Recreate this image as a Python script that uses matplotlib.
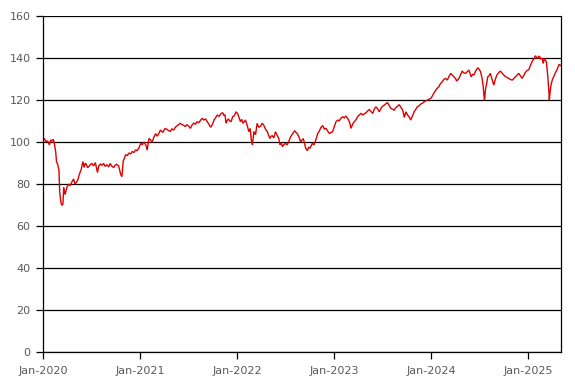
import matplotlib
matplotlib.use("Agg")
import matplotlib.pyplot as plt
import pandas as pd

dates = [
    # 2020
    "2020-01-01", "2020-01-04", "2020-01-08", "2020-01-11", "2020-01-15", "2020-01-20", "2020-01-25",
    "2020-01-30", "2020-02-04", "2020-02-08", "2020-02-12", "2020-02-18", "2020-02-21", "2020-02-25",
    "2020-03-01", "2020-03-04", "2020-03-08", "2020-03-12", "2020-03-16", "2020-03-19", "2020-03-24",
    "2020-03-31", "2020-04-06", "2020-04-12", "2020-04-18", "2020-04-25", "2020-05-01", "2020-05-10",
    "2020-05-17", "2020-05-24", "2020-05-30", "2020-06-04", "2020-06-08", "2020-06-12", "2020-06-17",
    "2020-06-21", "2020-06-27", "2020-07-03", "2020-07-09", "2020-07-16", "2020-07-24", "2020-07-29",
    "2020-08-04", "2020-08-10", "2020-08-16", "2020-08-22", "2020-08-29", "2020-09-04", "2020-09-10",
    "2020-09-16", "2020-09-23", "2020-09-28", "2020-10-04", "2020-10-12", "2020-10-19", "2020-10-24",
    "2020-10-29", "2020-11-03", "2020-11-07", "2020-11-13", "2020-11-20", "2020-11-26", "2020-12-02",
    "2020-12-08", "2020-12-15", "2020-12-20", "2020-12-27",
    # 2021
    "2021-01-03", "2021-01-09", "2021-01-15", "2021-01-22", "2021-01-27", "2021-02-03", "2021-02-09",
    "2021-02-15", "2021-02-21", "2021-02-28", "2021-03-06", "2021-03-11", "2021-03-18", "2021-03-27",
    "2021-04-05", "2021-04-14", "2021-04-24", "2021-04-30", "2021-05-07", "2021-05-14", "2021-05-21",
    "2021-05-31", "2021-06-07", "2021-06-13", "2021-06-19", "2021-06-26", "2021-07-03", "2021-07-09",
    "2021-07-15", "2021-07-21", "2021-07-28", "2021-08-03", "2021-08-09", "2021-08-15", "2021-08-22",
    "2021-08-29", "2021-09-04", "2021-09-10", "2021-09-17", "2021-09-23", "2021-09-29", "2021-10-06",
    "2021-10-12", "2021-10-18", "2021-10-25", "2021-10-31", "2021-11-07", "2021-11-12", "2021-11-16",
    "2021-11-20", "2021-11-25", "2021-11-29", "2021-12-04", "2021-12-09", "2021-12-15", "2021-12-21",
    "2021-12-28",
    # 2022
    "2022-01-03", "2022-01-07", "2022-01-13", "2022-01-18", "2022-01-23", "2022-02-01", "2022-02-07",
    "2022-02-14", "2022-02-19", "2022-02-23", "2022-02-27", "2022-03-05", "2022-03-11", "2022-03-17",
    "2022-03-23", "2022-03-30", "2022-04-05", "2022-04-11", "2022-04-18", "2022-04-24", "2022-04-29",
    "2022-05-04", "2022-05-09", "2022-05-13", "2022-05-19", "2022-05-25", "2022-06-03", "2022-06-07",
    "2022-06-11", "2022-06-16", "2022-06-20", "2022-06-26", "2022-07-02", "2022-07-08", "2022-07-14",
    "2022-07-21", "2022-07-28", "2022-08-05", "2022-08-10", "2022-08-15", "2022-08-21", "2022-08-28",
    "2022-09-02", "2022-09-07", "2022-09-12", "2022-09-16", "2022-09-22", "2022-09-27", "2022-10-02",
    "2022-10-07", "2022-10-11", "2022-10-17", "2022-10-24", "2022-10-31", "2022-11-06", "2022-11-12",
    "2022-11-19", "2022-11-25", "2022-12-01", "2022-12-07", "2022-12-14", "2022-12-20", "2022-12-26",
    # 2023
    "2023-01-02", "2023-01-08", "2023-01-14", "2023-01-20", "2023-01-26", "2023-02-02", "2023-02-08",
    "2023-02-14", "2023-02-23", "2023-03-01", "2023-03-05", "2023-03-10", "2023-03-15", "2023-03-22",
    "2023-03-30", "2023-04-05", "2023-04-12", "2023-04-19", "2023-04-25", "2023-05-01", "2023-05-07",
    "2023-05-13", "2023-05-19", "2023-05-26", "2023-06-01", "2023-06-07", "2023-06-13", "2023-06-20",
    "2023-06-27", "2023-07-03", "2023-07-09", "2023-07-15", "2023-07-21", "2023-07-27", "2023-08-03",
    "2023-08-09", "2023-08-15", "2023-08-21", "2023-08-27", "2023-09-03", "2023-09-09", "2023-09-16",
    "2023-09-22", "2023-09-28", "2023-10-04", "2023-10-10", "2023-10-16", "2023-10-22", "2023-10-29",
    "2023-11-04", "2023-11-10", "2023-11-17", "2023-11-23", "2023-11-29", "2023-12-06", "2023-12-12",
    "2023-12-18", "2023-12-24", "2023-12-31",
    # 2024
    "2024-01-05", "2024-01-11", "2024-01-17", "2024-01-23", "2024-01-30", "2024-02-05", "2024-02-12",
    "2024-02-18", "2024-02-24", "2024-03-02", "2024-03-08", "2024-03-15", "2024-03-21", "2024-03-27",
    "2024-04-02", "2024-04-06", "2024-04-10", "2024-04-15", "2024-04-21", "2024-04-27", "2024-05-03",
    "2024-05-10", "2024-05-16", "2024-05-22", "2024-05-27", "2024-05-31", "2024-06-05", "2024-06-10",
    "2024-06-15", "2024-06-20", "2024-06-25", "2024-06-30", "2024-07-05", "2024-07-11", "2024-07-15",
    "2024-07-18", "2024-07-20", "2024-07-24", "2024-07-28", "2024-08-01", "2024-08-05", "2024-08-11",
    "2024-08-18", "2024-08-24", "2024-08-30", "2024-09-05", "2024-09-11", "2024-09-18", "2024-09-24",
    "2024-09-30", "2024-10-06", "2024-10-12", "2024-10-19", "2024-10-25", "2024-11-01", "2024-11-07",
    "2024-11-13", "2024-11-19", "2024-11-26", "2024-12-02", "2024-12-08", "2024-12-14", "2024-12-21",
    "2024-12-27",
    # 2025
    "2025-01-03", "2025-01-09", "2025-01-15", "2025-01-21", "2025-01-28", "2025-02-01", "2025-02-05",
    "2025-02-09", "2025-02-13", "2025-02-17", "2025-02-22", "2025-02-26", "2025-03-02", "2025-03-06",
    "2025-03-10", "2025-03-13", "2025-03-16", "2025-03-19", "2025-03-21", "2025-03-24", "2025-03-27",
    "2025-04-01", "2025-04-06", "2025-04-12", "2025-04-19", "2025-04-23", "2025-04-27", "2025-05-02",
]

values = [
    # 2020
    100.5, 101.8, 101.3, 99.8, 100.5, 100.2, 98.6,
    101.0, 100.4, 101.3, 100.0, 95.0, 90.5, 89.5,
    86.6, 76.0, 71.5, 69.8, 70.5, 78.5, 75.0,
    78.5, 80.0, 79.2, 80.8, 82.4, 80.0, 81.6,
    84.7, 87.0, 90.7, 87.9, 89.9, 89.4, 87.8,
    88.2, 89.3, 89.8, 88.6, 90.2, 85.5, 88.7,
    89.5, 88.9, 89.8, 88.4, 89.2, 88.1, 89.8,
    88.5, 87.9, 88.9, 89.4, 88.6, 84.7, 83.5,
    91.0, 92.5, 94.0, 93.5, 94.8, 94.3, 95.5,
    95.0, 96.3, 95.8, 97.1,
    # 2021
    99.4, 98.7, 100.0, 98.6, 96.2, 101.7, 101.0,
    100.0, 102.2, 104.0, 102.8, 103.8, 105.7, 104.6,
    106.5, 105.8, 105.0, 106.3, 105.7, 107.2, 107.8,
    108.9, 108.3, 108.0, 107.4, 108.2, 107.5, 106.5,
    108.1, 109.0, 108.5, 109.7, 109.2, 110.2, 111.3,
    110.5, 111.0, 109.7, 108.4, 107.0, 108.2, 110.5,
    111.6, 112.9, 112.2, 113.4, 114.0, 112.6, 113.0,
    108.9, 110.4, 111.0, 110.0, 109.7, 112.0, 112.5,
    114.4,
    # 2022
    113.4, 112.0, 109.7, 110.8, 108.9, 110.5, 108.2,
    104.9, 106.5, 101.0, 98.6, 105.0, 103.5, 108.9,
    107.0, 107.6, 109.0, 108.0, 106.0, 105.0, 103.4,
    101.7, 102.8, 103.0, 102.0, 104.9, 102.5, 101.5,
    98.6, 99.8, 97.8, 98.8, 99.4, 98.6, 100.2,
    102.5, 103.8, 105.4, 104.6, 104.0, 102.6, 100.0,
    101.0, 101.6, 99.0, 97.0, 95.9, 97.6, 97.0,
    98.4, 99.4, 98.6, 101.0, 104.0, 105.2, 106.9,
    107.8, 106.2, 106.5, 105.4, 104.0, 104.5, 104.9,
    # 2023
    107.5, 109.7, 110.4, 110.1, 111.3, 112.0, 111.5,
    112.4, 110.8, 109.0, 106.5, 108.0, 109.3, 110.2,
    112.0, 112.8, 113.6, 112.9, 113.5, 113.9, 114.8,
    115.5, 114.6, 113.6, 115.6, 116.8, 115.9, 114.4,
    116.2, 117.1, 117.6, 118.3, 118.7, 117.4, 116.0,
    115.6, 115.2, 116.4, 117.0, 117.8, 116.5, 115.2,
    111.7, 114.4, 112.9, 112.0, 110.5, 112.2, 114.4,
    115.5, 116.8, 117.3, 118.1, 118.4, 119.2, 119.6,
    120.0, 120.4, 120.8,
    # 2024
    121.8, 123.2, 124.4, 125.5, 126.3, 127.8, 128.7,
    129.8, 130.3, 129.5, 131.2, 132.7, 131.8, 131.0,
    130.2, 129.0, 129.6, 130.3, 132.0, 133.8, 132.9,
    132.7, 133.5, 134.3, 132.5, 131.0, 132.2, 132.0,
    133.4, 134.5, 135.4, 134.6, 133.5, 130.3, 126.5,
    122.0, 120.0, 125.4, 127.8, 131.0, 131.4, 132.7,
    129.5, 127.1, 130.0, 132.0, 133.0, 133.8, 132.8,
    132.0, 131.2, 130.8, 130.3, 129.8, 129.5, 130.2,
    131.0, 131.8, 132.7, 131.6, 130.3, 131.5, 133.2,
    134.0,
    # 2025
    134.5, 136.5, 138.3, 139.5, 141.1, 140.2, 139.8,
    140.8, 140.6, 139.6, 139.8, 137.4, 139.8, 138.9,
    138.3, 134.0, 130.0, 124.5, 120.0, 124.0, 127.0,
    129.5, 131.0, 132.8, 134.5, 135.8, 137.0, 136.5,
]

y_ticks = [0, 20, 40, 60, 80, 100, 120, 140, 160]
x_tick_dates = ["2020-01-01", "2021-01-01", "2022-01-01", "2023-01-01", "2024-01-01", "2025-01-01"]
x_tick_labels = ["Jan-2020", "Jan-2021", "Jan-2022", "Jan-2023", "Jan-2024", "Jan-2025"]

x = pd.to_datetime(dates)

fig = plt.figure(figsize=(5.75, 3.86), dpi=100)
ax = fig.add_axes([0.0748, 0.088, 0.9009, 0.8705])

ax.plot(x, values, color="#DD0000", linewidth=1.0, solid_joinstyle="miter")

ax.set_ylim(0, 160)
ax.set_yticks(y_ticks)
ax.set_xlim(pd.Timestamp("2020-01-01"), pd.Timestamp("2025-05-04"))
ax.set_xticks(pd.to_datetime(x_tick_dates))
ax.set_xticklabels(x_tick_labels)

ax.yaxis.grid(True, color="black", linewidth=0.9)
ax.set_axisbelow(True)
for s in ["left", "bottom", "right"]:
    ax.spines[s].set_color("black")
    ax.spines[s].set_linewidth(0.9)
ax.spines["top"].set_visible(False)

ax.tick_params(axis="both", colors="black", labelcolor="#595959", labelsize=8,
               length=5, width=0.9, direction="out")
ax.tick_params(axis="x", pad=5)
ax.tick_params(axis="y", pad=4)

fig.savefig("out.png", dpi=100, facecolor="white")
